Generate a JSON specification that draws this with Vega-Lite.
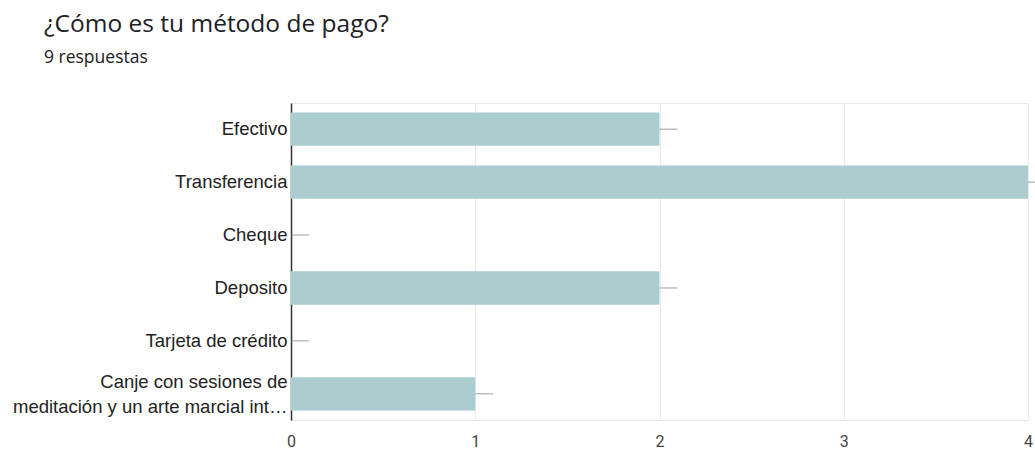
{
  "$schema": "https://vega.github.io/schema/vega-lite/v6.json",
  "autosize": "none",
  "width": 737,
  "height": 317,
  "padding": {"left": 291, "top": 103, "right": 7, "bottom": 29},
  "background": "white",
  "title": {
    "text": "¿Cómo es tu método de pago?",
    "subtitle": "9 respuestas",
    "anchor": "start",
    "frame": "group",
    "dx": -247,
    "offset": 36,
    "font": "Open Sans",
    "fontSize": 24.5,
    "fontWeight": "normal",
    "color": "#202124",
    "subtitleFont": "Open Sans",
    "subtitleFontSize": 17.5,
    "subtitleColor": "#202124",
    "subtitlePadding": 11
  },
  "data": {
    "values": [
      {"metodo": "Efectivo", "respuestas": 2},
      {"metodo": "Transferencia", "respuestas": 4},
      {"metodo": "Cheque", "respuestas": 0},
      {"metodo": "Deposito", "respuestas": 2},
      {"metodo": "Tarjeta de crédito", "respuestas": 0},
      {"metodo": "Canje con sesiones de meditación y un arte marcial int…", "respuestas": 1}
    ]
  },
  "encoding": {
    "y": {
      "field": "metodo",
      "type": "nominal",
      "sort": null,
      "title": null,
      "scale": {"paddingInner": 0.37, "paddingOuter": 0.18},
      "axis": {
        "domain": true,
        "domainColor": "#333333",
        "domainWidth": 1.5,
        "ticks": false,
        "labelPadding": 4,
        "labelFont": "Liberation Sans",
        "labelFontSize": 18.5,
        "labelColor": "#222222",
        "labelLimit": 300,
        "labelLineHeight": 25,
        "labelOffset": {"condition": {"test": "indexof(datum.value, 'Canje') == 0", "value": -12}, "value": 0},
        "labelExpr": "indexof(datum.value, 'Canje') == 0 ? ['Canje con sesiones de', 'meditación y un arte marcial int…'] : datum.value"
      }
    },
    "x": {
      "field": "respuestas",
      "type": "quantitative",
      "title": null,
      "scale": {"domain": [0, 4], "nice": false},
      "axis": {
        "values": [0, 0.5, 1, 1.5, 2, 2.5, 3, 3.5, 4],
        "format": "d",
        "labelExpr": "datum.value % 1 == 0 ? format(datum.value, 'd') : ''",
        "domain": false,
        "ticks": false,
        "grid": true,
        "gridColor": "#ebebeb",
        "labelFont": "Roboto",
        "labelFontSize": 16,
        "labelColor": "#444444",
        "labelPadding": 13,
        "labelFlush": false
      }
    }
  },
  "layer": [
    {
      "mark": {"type": "bar", "color": "#abcdd0"}
    },
    {
      "mark": {"type": "tick", "orient": "horizontal", "size": 18, "thickness": 1, "xOffset": 9, "color": "#757575"},
      "encoding": {}
    }
  ],
  "config": {
    "view": {"stroke": "#e8e8e8"}
  }
}
